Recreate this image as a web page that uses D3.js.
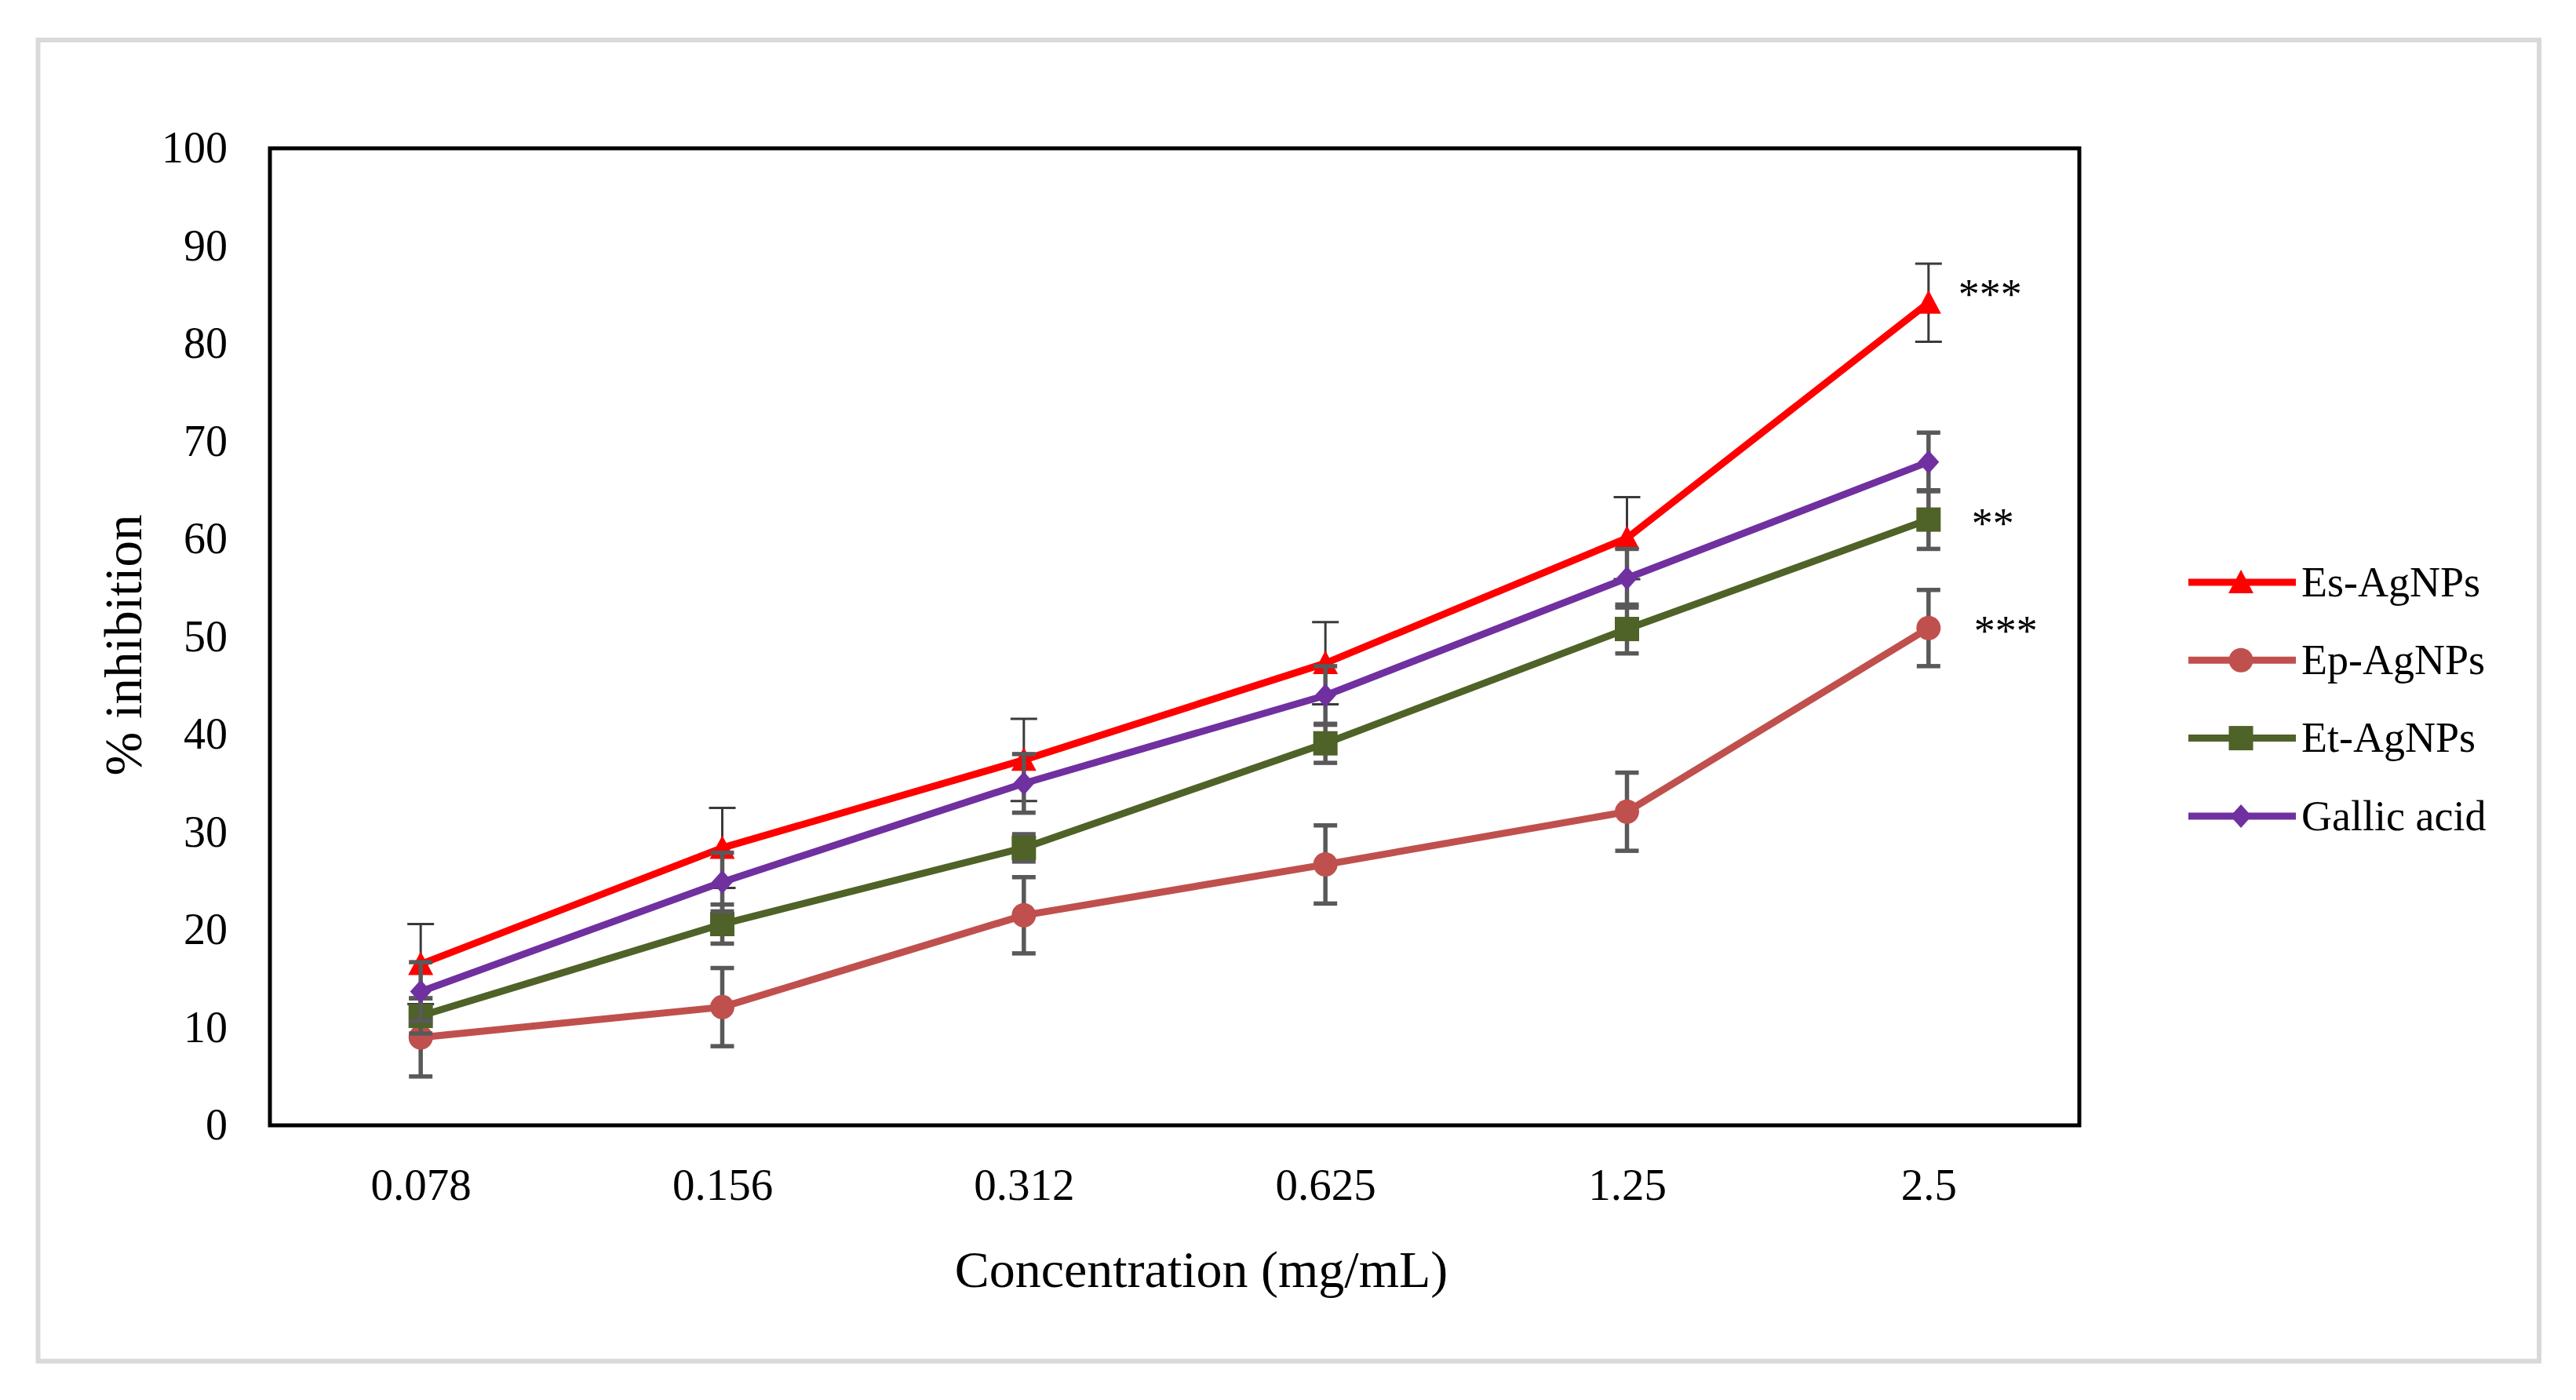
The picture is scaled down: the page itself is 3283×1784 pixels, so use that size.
<!DOCTYPE html>
<meta charset="utf-8">
<style>
body { margin: 0; background: #fff; }
text { font-family: "Liberation Serif", "Times New Roman", serif; fill: #000; }
</style>
<svg id="chart" width="3283" height="1784"></svg>
<script src="https://d3js.org/d3.v7.min.js"></script>
<script>

// data
var concentrations = ["0.078", "0.156", "0.312", "0.625", "1.25", "2.5"];
var yTicks = [0, 10, 20, 30, 40, 50, 60, 70, 80, 90, 100];

var seriesNames = ["Es-AgNPs", "Ep-AgNPs", "Et-AgNPs", "Gallic acid"];
var esValues = [16.5, 28.4, 37.4, 47.3, 60.1, 84.2];
var esErrors = [4.1, 4.1, 4.2, 4.2, 4.2, 4.0];
var epValues = [9.0, 12.1, 21.5, 26.7, 32.1, 50.9];
var epErrors = [4.0, 4.0, 3.9, 4.0, 4.0, 3.9];
var etValues = [11.2, 20.6, 28.4, 39.1, 50.8, 62.0];
var etErrors = [1.8, 2.0, 1.4, 2.0, 2.5, 3.0];
var gaValues = [13.7, 24.9, 35.0, 44.0, 56.0, 67.9];
var gaErrors = [3.0, 3.0, 3.0, 3.0, 3.0, 3.0];
var significance = ["***", "***", "**", ""];

// styling per series
var colors = ["#ff0000", "#c0504d", "#4f6228", "#7030a0"];
var shapes = ["triangle", "circle", "square", "diamond"];

var svg = d3.select("#chart");

// outer light frame
svg.append("rect")
    .attr("x", 48.5).attr("y", 51)
    .attr("width", 3187.5).attr("height", 1683.5)
    .attr("fill", "none").attr("stroke", "#d9d9d9").attr("stroke-width", 6);

var plot = {left: 344, top: 189, right: 2650, bottom: 1434};

var x = d3.scalePoint()
    .domain(concentrations)
    .range([plot.left, plot.right])
    .padding(0.5);

var y = d3.scaleLinear()
    .domain([0, 100])
    .range([plot.bottom, plot.top]);

// y labels (no tick marks in the original)
var yAxis = svg.append("g")
    .attr("transform", "translate(" + plot.left + ",0)")
    .call(d3.axisLeft(y).tickValues(yTicks).tickSize(0).tickPadding(54));
yAxis.select(".domain").remove();
yAxis.selectAll("text")
    .attr("font-size", 56)
    .attr("font-family", "Liberation Serif")
    .attr("fill", "#000");

var xAxis = svg.append("g")
    .attr("transform", "translate(0," + plot.bottom + ")")
    .call(d3.axisBottom(x).tickSize(0).tickPadding(55));
xAxis.select(".domain").remove();
xAxis.selectAll("text")
    .attr("font-size", 57)
    .attr("font-family", "Liberation Serif")
    .attr("fill", "#000");

// axis titles
svg.append("text")
    .attr("x", 1531).attr("y", 1640)
    .attr("text-anchor", "middle")
    .attr("font-size", 66)
    .text("Concentration (mg/mL)");

svg.append("text")
    .attr("transform", "translate(180,822) rotate(-90)")
    .attr("text-anchor", "middle")
    .attr("font-size", 67)
    .text("% inhibition");

// marker shapes, drawn around 0,0
function markerPath(shape) {
    var p = d3.path();
    if (shape == "triangle") {
        p.moveTo(0, -16); p.lineTo(16, 14); p.lineTo(-16, 14); p.closePath();
    } else if (shape == "circle") {
        p.arc(0, 0, 15.5, 0, 2 * Math.PI);
    } else if (shape == "square") {
        p.rect(-15.5, -15.5, 31, 31);
    } else {
        p.moveTo(0, -15); p.lineTo(13.5, 0); p.lineTo(0, 15); p.lineTo(-13.5, 0); p.closePath();
    }
    return p.toString();
}

var allValues = [esValues, epValues, etValues, gaValues];
var allErrors = [esErrors, epErrors, etErrors, gaErrors];

var series = seriesNames.map(function (name, i) {
    return {
        name: name,
        color: colors[i],
        shape: shapes[i],
        points: concentrations.map(function (c, j) {
            return {c: c, v: allValues[i][j], e: allErrors[i][j]};
        })
    };
});

var line = d3.line()
    .x(d => x(d.c))
    .y(d => y(d.v));

series.forEach(function (s, i) {
    var g = svg.append("g");

    // error bars first, then the series draws over its own bars
    var thin = (i == 0);
    var ebColor = thin ? "#3a3a3a" : "#595959";
    var ebWidth = thin ? 3 : 5.5;
    var capHalf = thin ? 17 : 15;

    var eb = g.selectAll(".eb").data(s.points).enter().append("g");
    eb.append("line")
        .attr("x1", d => x(d.c)).attr("x2", d => x(d.c))
        .attr("y1", d => y(d.v + d.e)).attr("y2", d => y(d.v - d.e))
        .attr("stroke", ebColor).attr("stroke-width", ebWidth);
    eb.append("line")
        .attr("x1", d => x(d.c) - capHalf).attr("x2", d => x(d.c) + capHalf)
        .attr("y1", d => y(d.v + d.e)).attr("y2", d => y(d.v + d.e))
        .attr("stroke", ebColor).attr("stroke-width", ebWidth);
    eb.append("line")
        .attr("x1", d => x(d.c) - capHalf).attr("x2", d => x(d.c) + capHalf)
        .attr("y1", d => y(d.v - d.e)).attr("y2", d => y(d.v - d.e))
        .attr("stroke", ebColor).attr("stroke-width", ebWidth);

    g.append("path")
        .datum(s.points)
        .attr("d", line)
        .attr("fill", "none")
        .attr("stroke", s.color)
        .attr("stroke-width", 9)
        .attr("stroke-linejoin", "round");

    g.selectAll(".mk").data(s.points).enter().append("path")
        .attr("d", markerPath(s.shape))
        .attr("transform", d => "translate(" + x(d.c) + "," + y(d.v) + ")")
        .attr("fill", s.color);
});

// significance stars at the highest concentration
var starOffsets = [{dx: 38, dy: 7}, {dx: 58, dy: 22}, {dx: 55, dy: 23}, {dx: 0, dy: 0}];
series.forEach(function (s, i) {
    if (!significance[i]) return;
    var last = s.points[s.points.length - 1];
    svg.append("text")
        .attr("x", x(last.c) + starOffsets[i].dx)
        .attr("y", y(last.v) + starOffsets[i].dy)
        .attr("font-size", 54)
        .text(significance[i]);
});

// frame of plot area on top
svg.append("rect")
    .attr("x", plot.left).attr("y", plot.top)
    .attr("width", plot.right - plot.left).attr("height", plot.bottom - plot.top)
    .attr("fill", "none").attr("stroke", "#000").attr("stroke-width", 5);

// legend
var legend = svg.append("g").attr("transform", "translate(2789,742)");
var rows = legend.selectAll(".row").data(series).enter().append("g")
    .attr("transform", (d, i) => "translate(0," + (i * 99.3) + ")");
rows.append("line")
    .attr("x1", 0).attr("x2", 137).attr("y1", 0).attr("y2", 0)
    .attr("stroke", d => d.color).attr("stroke-width", 9);
rows.append("path")
    .attr("d", d => markerPath(d.shape))
    .attr("transform", "translate(67,0)")
    .attr("fill", d => d.color);
rows.append("text")
    .attr("x", 144).attr("y", 0).attr("dy", "0.33em")
    .attr("font-size", 54)
    .text(d => d.name);

</script>
